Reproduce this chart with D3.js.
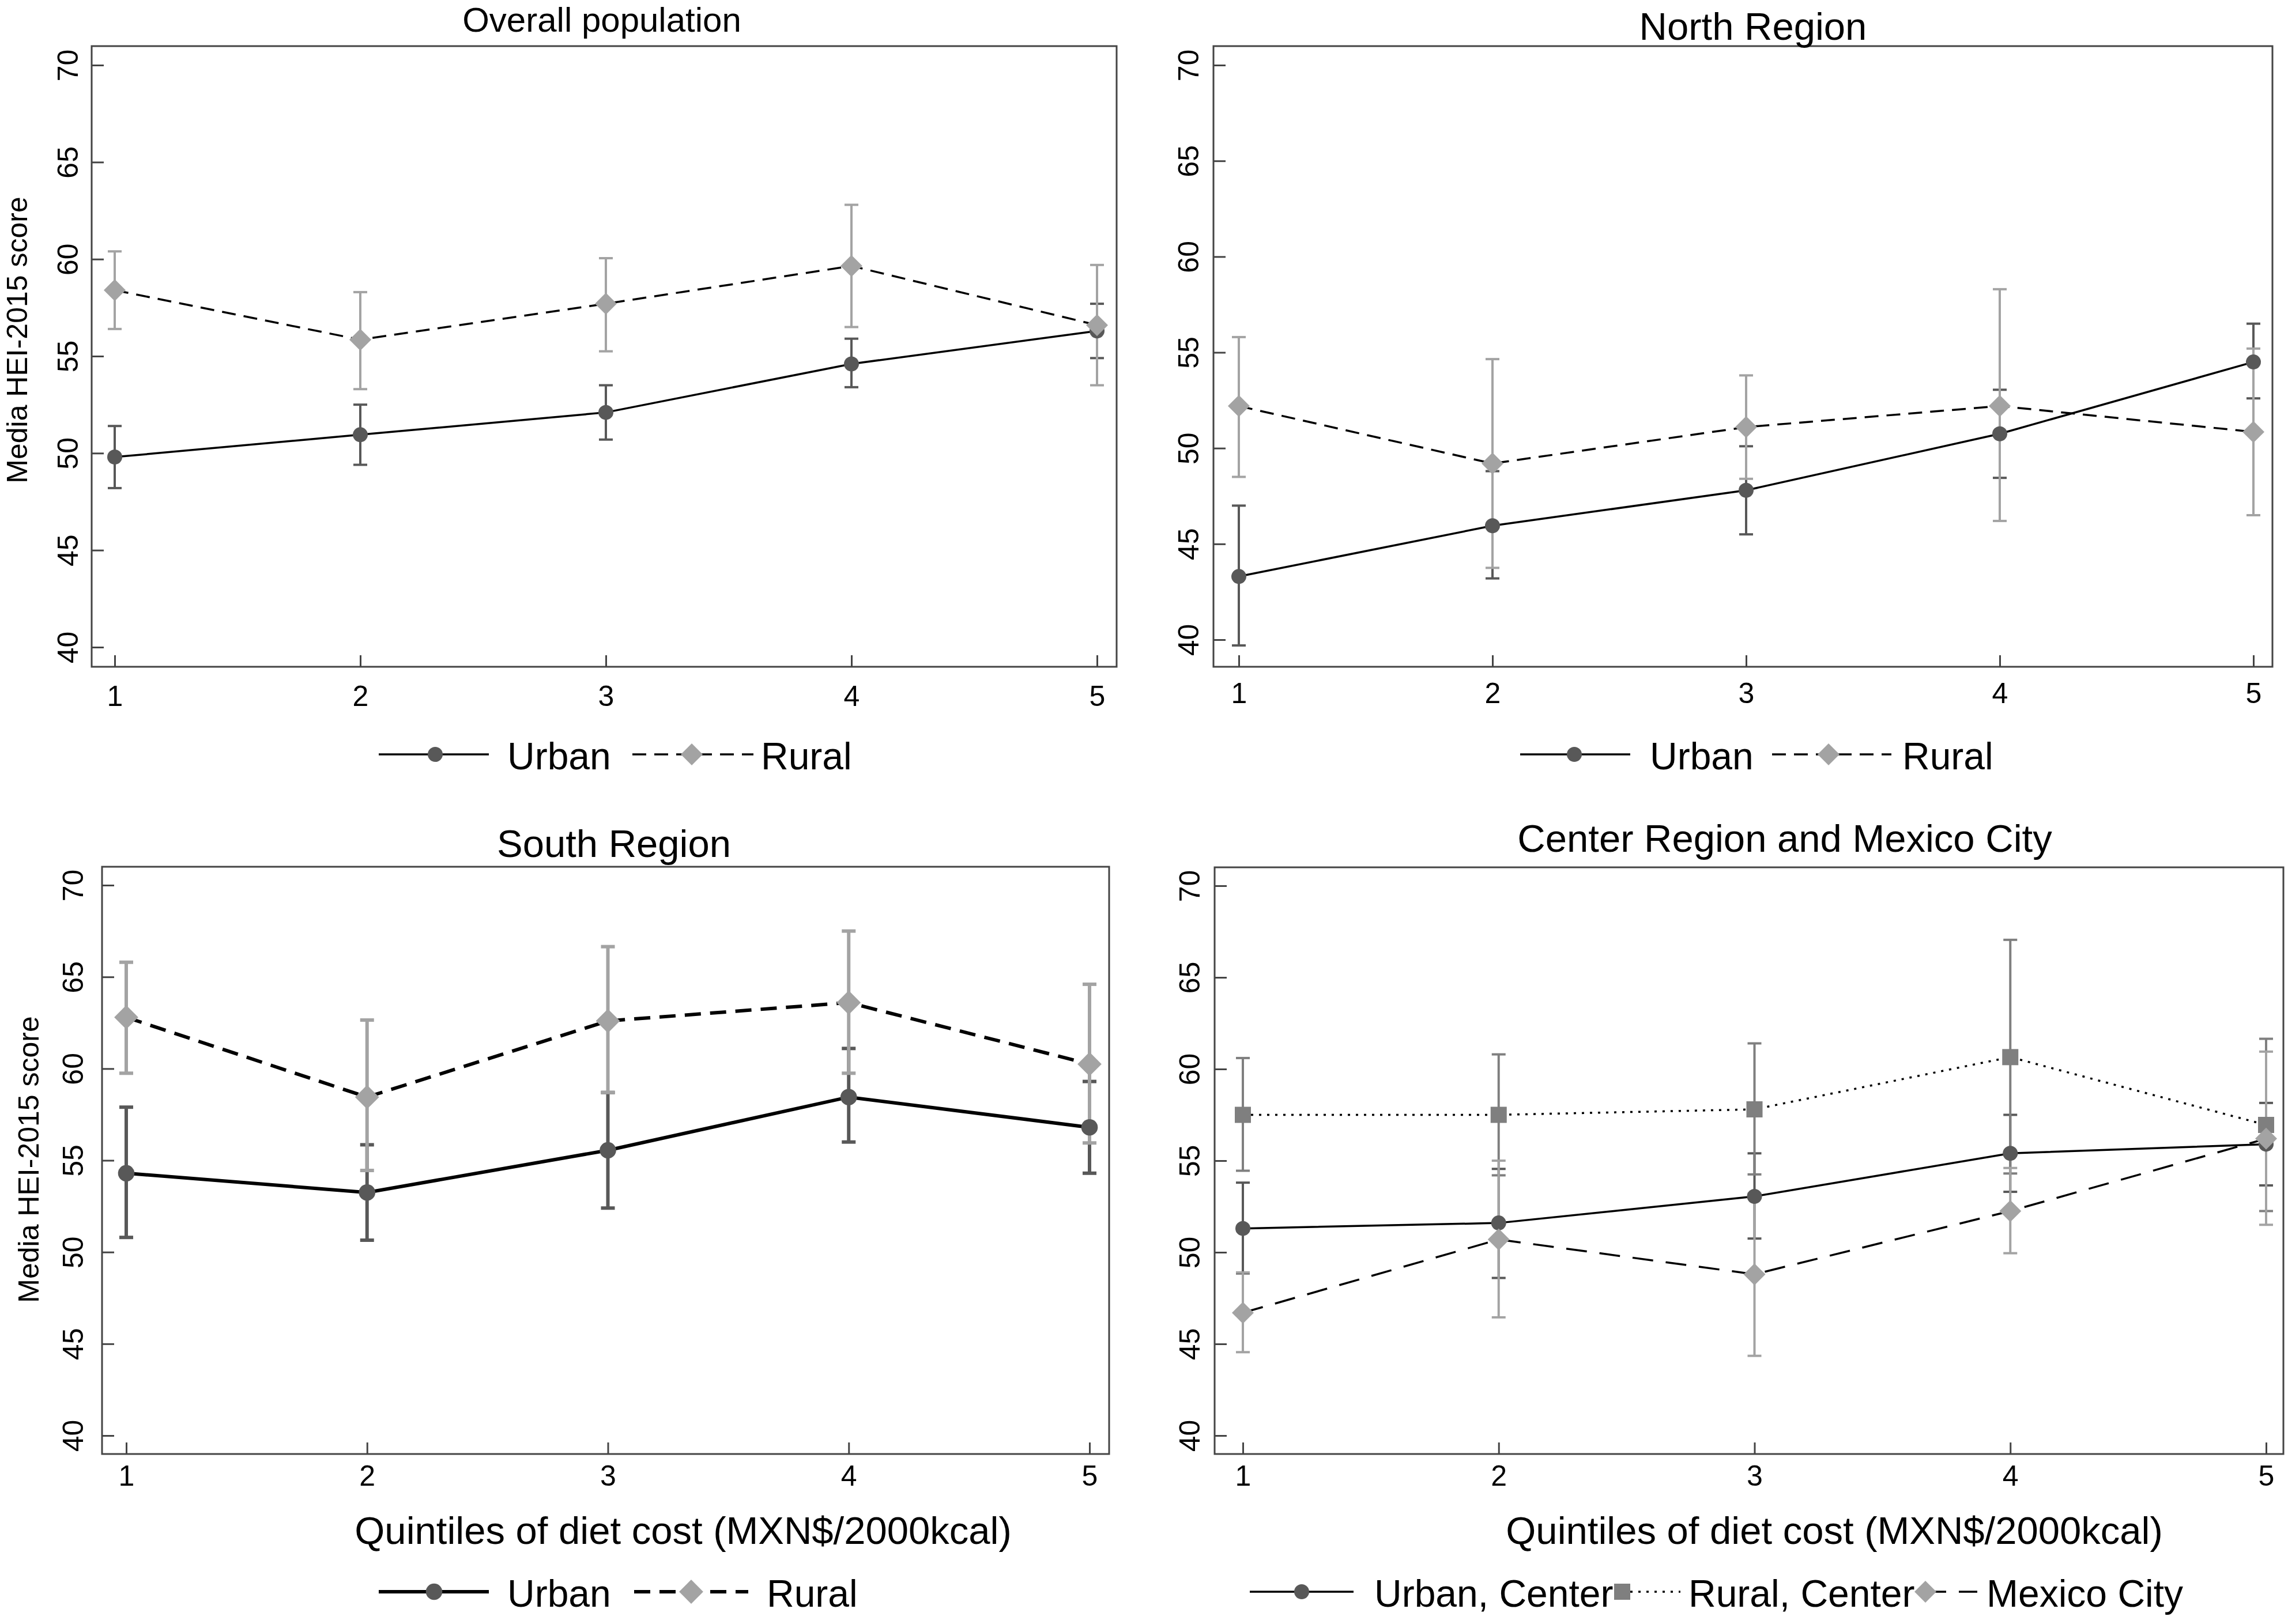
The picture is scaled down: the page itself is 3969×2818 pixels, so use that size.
<!DOCTYPE html>
<html><head><meta charset="utf-8">
<script src="https://cdn.jsdelivr.net/npm/d3@7"></script>
<style>html,body{margin:0;padding:0;background:#fff;} svg{display:block;}</style>
</head><body>
<svg id="c" width="3969" height="2818"></svg>
<script>
// ---------------- DATA ----------------
const quintiles = [1, 2, 3, 4, 5];
const yTicks = [40, 45, 50, 55, 60, 65, 70];
const xAxisTitle = "Quintiles of diet cost (MXN$/2000kcal)";
const yAxisTitle = "Media HEI-2015 score";
const panelTitles = ["Overall population", "North Region", "South Region", "Center Region and Mexico City"];

// Overall population
const overallUrban   = [49.8, 50.95, 52.1, 54.6, 56.3];
const overallUrbanLo = [48.2, 49.4, 50.7, 53.4, 54.9];
const overallUrbanHi = [51.4, 52.5, 53.5, 55.9, 57.7];
const overallRural   = [58.4, 55.85, 57.7, 59.65, 56.6];
const overallRuralLo = [56.4, 53.3, 55.25, 56.5, 53.5];
const overallRuralHi = [60.4, 58.3, 60.05, 62.8, 59.7];

// North Region
const northUrban   = [43.3, 45.95, 47.8, 50.75, 54.5];
const northUrbanLo = [39.7, 43.2, 45.5, 48.45, 52.6];
const northUrbanHi = [47.0, 48.8, 50.1, 53.05, 56.5];
const northRural   = [52.2, 49.2, 51.1, 52.2, 50.85];
const northRuralLo = [48.5, 43.75, 48.4, 46.2, 46.5];
const northRuralHi = [55.8, 54.65, 53.8, 58.3, 55.2];

// South Region
const southUrban   = [54.3, 53.25, 55.55, 58.45, 56.8];
const southUrbanLo = [50.8, 50.65, 52.4, 56.0, 54.3];
const southUrbanHi = [57.9, 55.85, 58.7, 61.1, 59.3];
const southRural   = [62.8, 58.45, 62.6, 63.6, 60.25];
const southRuralLo = [59.75, 54.45, 58.7, 59.75, 55.95];
const southRuralHi = [65.8, 62.65, 66.65, 67.5, 64.6];

// Center Region and Mexico City
const centerUrban   = [51.3, 51.6, 53.05, 55.4, 55.9];
const centerUrbanLo = [48.85, 48.6, 50.75, 53.3, 53.65];
const centerUrbanHi = [53.8, 54.55, 55.4, 57.5, 58.15];
const centerRural   = [57.5, 57.5, 57.8, 60.65, 56.95];
const centerRuralLo = [54.45, 54.2, 54.25, 54.3, 52.25];
const centerRuralHi = [60.6, 60.8, 61.4, 67.05, 61.65];
const mexicoCity    = [46.7, 50.7, 48.8, 52.25, 56.2];
const mexicoCityLo  = [44.55, 46.45, 44.35, 49.95, 51.5];
const mexicoCityHi  = [48.9, 55.0, 53.2, 54.6, 60.95];

// ---------------- STYLE ----------------
const FONT = "'Liberation Sans', Arial, Helvetica, sans-serif";
const FRAME = "#444444";
const DARK = "#585858", MID = "#7f7f7f", LIGHT = "#a3a3a3";

const svg = d3.select("#c");
svg.append("rect").attr("width", 3969).attr("height", 2818).attr("fill", "#fff");

function markerShape(g, type, cx, cy, color, s) {
  if (type === "circle") {
    g.append("circle").attr("cx", cx).attr("cy", cy).attr("r", 13 * s).attr("fill", color);
  } else if (type === "diamond") {
    const r = 19 * s;
    g.append("path").attr("d", `M${cx},${cy - r}L${cx + r},${cy}L${cx},${cy + r}L${cx - r},${cy}Z`).attr("fill", color);
  } else {
    const h = 14 * s;
    g.append("rect").attr("x", cx - h).attr("y", cy - h).attr("width", 2 * h).attr("height", 2 * h).attr("fill", color);
  }
}

function drawPanel(p) {
  const g = svg.append("g");
  const x = d3.scaleLinear().domain([1, 5]).range(p.x);
  const y = d3.scaleLinear().domain([40, 70]).range(p.y);
  const [fl, ft, fr, fb] = p.frame;

  // y axis (ticks inward, rotated labels)
  const ya = g.append("g").attr("transform", `translate(${fl},0)`)
    .call(d3.axisLeft(y).tickValues(yTicks).tickFormat(d3.format("d")).tickSize(-21).tickPadding(0));
  ya.select(".domain").remove();
  ya.selectAll(".tick line").attr("stroke", FRAME).attr("stroke-width", 3);
  ya.selectAll(".tick text").attr("x", null).attr("dy", null).attr("y", 0)
    .attr("text-anchor", "middle").attr("transform", `translate(${-p.yTickOff},0) rotate(-90)`)
    .attr("font-size", 50).attr("font-family", FONT).attr("fill", "#000");

  // x axis (ticks inward)
  const xa = g.append("g").attr("transform", `translate(0,${fb})`)
    .call(d3.axisBottom(x).tickValues(quintiles).tickFormat(d3.format("d")).tickSize(-20).tickPadding(0));
  xa.select(".domain").remove();
  xa.selectAll(".tick line").attr("stroke", FRAME).attr("stroke-width", 3);
  xa.selectAll(".tick text").attr("dy", null).attr("y", p.xTickOff)
    .attr("font-size", 50).attr("font-family", FONT).attr("fill", "#000");

  // frame
  g.append("rect").attr("x", fl).attr("y", ft).attr("width", fr - fl).attr("height", fb - ft)
    .attr("fill", "none").attr("stroke", FRAME).attr("stroke-width", 3);

  // title
  g.append("text").attr("x", p.title.x).attr("y", p.title.y).attr("text-anchor", "middle")
    .attr("font-size", p.title.fs).attr("font-family", FONT).attr("fill", "#000").text(p.title.text);

  // y label
  if (p.yLabel) {
    g.append("text").attr("transform", `translate(${p.yLabel.x},${p.yLabel.y}) rotate(-90)`)
      .attr("text-anchor", "middle").attr("font-size", 50).attr("font-family", FONT).attr("fill", "#000")
      .text(yAxisTitle);
  }
  // x label
  if (p.xLabel) {
    g.append("text").attr("x", p.xLabel.x).attr("y", p.xLabel.y).attr("text-anchor", "middle")
      .attr("font-size", 67).attr("font-family", FONT).attr("fill", "#000").text(xAxisTitle);
  }

  // CIs
  p.series.forEach(s => {
    const cg = g.append("g").attr("stroke", s.ciColor).attr("stroke-width", p.ciw).attr("fill", "none");
    quintiles.forEach((q, i) => {
      const cx = x(q);
      cg.append("line").attr("x1", cx).attr("x2", cx).attr("y1", y(s.lo[i])).attr("y2", y(s.hi[i]));
      cg.append("line").attr("x1", cx - p.capw / 2).attr("x2", cx + p.capw / 2).attr("y1", y(s.lo[i])).attr("y2", y(s.lo[i]));
      cg.append("line").attr("x1", cx - p.capw / 2).attr("x2", cx + p.capw / 2).attr("y1", y(s.hi[i])).attr("y2", y(s.hi[i]));
    });
  });
  // lines
  const line = d3.line().x((d, i) => x(quintiles[i])).y(d => y(d));
  p.series.forEach(s => {
    g.append("path").attr("d", line(s.values)).attr("fill", "none").attr("stroke", "#000")
      .attr("stroke-width", p.lw).attr("stroke-dasharray", s.dash || null)
      .attr("stroke-linecap", s.cap || "butt");
  });
  // markers
  p.series.forEach(s => {
    quintiles.forEach((q, i) => markerShape(g, s.marker, x(q), y(s.values[i]), s.markerColor, p.ms));
  });

  // legend
  const L = p.legend;
  p.series.forEach((s, k) => {
    const it = L.items[k];
    const ky = L.y - 26;
    g.append("line").attr("x1", it.k0).attr("x2", it.k1).attr("y1", ky).attr("y2", ky)
      .attr("stroke", "#000").attr("stroke-width", p.lw).attr("stroke-dasharray", s.dash || null)
      .attr("stroke-linecap", s.cap || "butt");
    markerShape(g, s.marker, it.m, ky, s.markerColor, p.ms);
  });
  p.series.forEach((s, k) => {
    const it = L.items[k];
    g.append("text").attr("x", it.t).attr("y", L.y).attr("font-size", 66).attr("font-family", FONT)
      .attr("fill", "#000").text(s.name);
  });
}

// ---------------- PANELS ----------------
drawPanel({
  frame: [159, 80, 1937, 1157], x: [199, 1903], y: [1123, 113],
  yTickOff: 24, xTickOff: 68,
  title: { text: panelTitles[0], x: 1044, y: 55, fs: 60 },
  yLabel: { x: 47, y: 590 },
  lw: 3.5, ciw: 4, capw: 24, ms: 1,
  series: [
    { name: "Urban", values: overallUrban, lo: overallUrbanLo, hi: overallUrbanHi, marker: "circle", markerColor: DARK, ciColor: DARK },
    { name: "Rural", values: overallRural, lo: overallRuralLo, hi: overallRuralHi, marker: "diamond", markerColor: LIGHT, ciColor: LIGHT, dash: "24,14" }
  ],
  legend: { y: 1335, items: [{ k0: 657, k1: 848, m: 755, t: 880 }, { k0: 1097, k1: 1307, m: 1200, t: 1320 }] }
});

drawPanel({
  frame: [2105, 80, 3942, 1157], x: [2149, 3909], y: [1110, 113],
  yTickOff: 26, xTickOff: 63,
  title: { text: panelTitles[1], x: 3041, y: 69, fs: 67 },
  lw: 3.5, ciw: 4, capw: 24, ms: 1,
  series: [
    { name: "Urban", values: northUrban, lo: northUrbanLo, hi: northUrbanHi, marker: "circle", markerColor: DARK, ciColor: DARK },
    { name: "Rural", values: northRural, lo: northRuralLo, hi: northRuralHi, marker: "diamond", markerColor: LIGHT, ciColor: LIGHT, dash: "24,14" }
  ],
  legend: { y: 1335, items: [{ k0: 2637, k1: 2828, m: 2731, t: 2862 }, { k0: 3074, k1: 3281, m: 3172, t: 3300 }] }
});

drawPanel({
  frame: [177, 1504, 1924, 2523], x: [219, 1890], y: [2491, 1536],
  yTickOff: 33, xTickOff: 55,
  title: { text: panelTitles[2], x: 1065, y: 1487, fs: 67 },
  yLabel: { x: 67, y: 2012 },
  xLabel: { x: 1185, y: 2679 },
  lw: 6, ciw: 6, capw: 24, ms: 1.1,
  series: [
    { name: "Urban", values: southUrban, lo: southUrbanLo, hi: southUrbanHi, marker: "circle", markerColor: DARK, ciColor: DARK },
    { name: "Rural", values: southRural, lo: southRuralLo, hi: southRuralHi, marker: "diamond", markerColor: LIGHT, ciColor: LIGHT, dash: "28,16" }
  ],
  legend: { y: 2788, items: [{ k0: 657, k1: 848, m: 753, t: 880 }, { k0: 1100, k1: 1298, m: 1199, t: 1330 }] }
});

drawPanel({
  frame: [2107, 1505, 3961, 2523], x: [2156, 3931], y: [2491, 1537],
  yTickOff: 26, xTickOff: 55,
  title: { text: panelTitles[3], x: 3096, y: 1478, fs: 67 },
  xLabel: { x: 3182, y: 2679 },
  lw: 3.5, ciw: 4, capw: 24, ms: 1,
  series: [
    { name: "Urban, Center", values: centerUrban, lo: centerUrbanLo, hi: centerUrbanHi, marker: "circle", markerColor: DARK, ciColor: DARK },
    { name: "Rural, Center", values: centerRural, lo: centerRuralLo, hi: centerRuralHi, marker: "square", markerColor: MID, ciColor: MID, dash: "4,10" },
    { name: "Mexico City", values: mexicoCity, lo: mexicoCityLo, hi: mexicoCityHi, marker: "diamond", markerColor: LIGHT, ciColor: LIGHT, dash: "36,22" }
  ],
  legend: { y: 2788, items: [{ k0: 2168, k1: 2348, m: 2258, t: 2384 }, { k0: 2814, k1: 2915, m: 2814, t: 2929 }, { k0: 3340, k1: 3430, m: 3340, t: 3446 }] }
});
</script>
</body></html>
